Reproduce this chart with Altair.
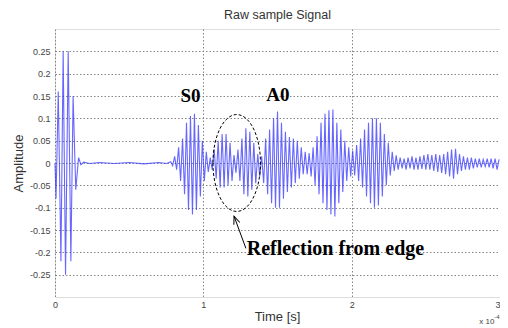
import altair as alt
import pandas as pd

# ---------------- data (time in units of 1e-4 s) ----------------
# excitation burst at the start (extrema)
burst1_t = [0.000, 0.007, 0.022, 0.040, 0.055, 0.071, 0.089, 0.107, 0.122, 0.140, 0.159, 0.175, 0.193]
burst1_v = [0.000, -0.080, 0.160, -0.220, 0.250, -0.250, 0.250, -0.220, 0.150, -0.060, 0.012, -0.004, 0.002]

# quiet part before the first arrival
quiet_t = [0.233, 0.300, 0.400, 0.500, 0.600, 0.700, 0.753]
quiet_v = [-0.001, 0.001, -0.001, 0.001, -0.002, 0.001, -0.001]

# received signal: successive positive and negative peaks, one per cycle
burst2_start = 0.78
cycle = 0.02667
pos_peaks = [0.003, 0.015, 0.035, 0.055, 0.090, 0.105, 0.110, 0.085, 0.050, 0.025,
             0.012, 0.030, 0.050, 0.065, 0.065, 0.045, 0.018, 0.030, 0.055, 0.078,
             0.070, 0.045, 0.020, 0.015, 0.055, 0.075, 0.100, 0.115, 0.090, 0.070,
             0.058, 0.055, 0.050, 0.035, 0.025, 0.022, 0.035, 0.060, 0.090, 0.110,
             0.118, 0.120, 0.090, 0.075, 0.050, 0.035, 0.028, 0.040, 0.055, 0.075,
             0.090, 0.100, 0.100, 0.090, 0.065, 0.045, 0.025, 0.017, 0.012, 0.010,
             0.012, 0.015, 0.012, 0.015, 0.018, 0.020, 0.018, 0.020, 0.018, 0.020,
             0.025, 0.030, 0.032, 0.020, 0.015, 0.012, 0.012, 0.010, 0.010, 0.008,
             0.010, 0.010, 0.010, 0.008]
neg_peaks = [-0.006, -0.015, -0.040, -0.070, -0.105, -0.115, -0.105, -0.075, -0.040, -0.020,
             -0.015, -0.035, -0.055, -0.055, -0.050, -0.040, -0.022, -0.040, -0.070, -0.075,
             -0.060, -0.045, -0.030, -0.045, -0.070, -0.090, -0.100, -0.100, -0.080, -0.065,
             -0.055, -0.045, -0.035, -0.025, -0.025, -0.030, -0.050, -0.070, -0.090, -0.105,
             -0.115, -0.120, -0.090, -0.065, -0.040, -0.030, -0.028, -0.040, -0.055, -0.075,
             -0.090, -0.100, -0.095, -0.075, -0.050, -0.028, -0.018, -0.015, -0.012, -0.015,
             -0.012, -0.015, -0.015, -0.013, -0.015, -0.015, -0.018, -0.020, -0.022, -0.025,
             -0.030, -0.035, -0.025, -0.018, -0.015, -0.015, -0.012, -0.010, -0.010, -0.008,
             -0.010, -0.012, -0.015]

x_ticks = [0, 1, 2, 3]
y_ticks = [-0.25, -0.2, -0.15, -0.1, -0.05, 0, 0.05, 0.1, 0.15, 0.2, 0.25]

# annotation anchors (data coordinates)
mode_labels = ["S0", "A0"]
mode_t = [0.913, 1.503]
mode_v = [0.149, 0.153]
refl_label = "Reflection from edge"
refl_t, refl_v = 1.293, -0.193
ellipse_t, ellipse_v = 1.225, 0.0
arrow_tail = (1.287, -0.191)
arrow_tip = (1.207, -0.119)
exp_t, exp_v = 2.86, -0.355

# ---------------- build table ----------------
rows = list(zip(burst1_t, burst1_v)) + list(zip(quiet_t, quiet_v))
for j, v in enumerate(pos_peaks):
    rows.append((burst2_start + j * cycle, v))
for j, v in enumerate(neg_peaks):
    rows.append((burst2_start + (j + 0.5) * cycle, v))
sig = pd.DataFrame(rows, columns=["t", "v"]).sort_values("t").reset_index(drop=True)
sig["i"] = range(len(sig))

xs = alt.Scale(domain=[0, 3], nice=False, zero=False)
ys = alt.Scale(domain=[-0.3, 0.3], nice=False, zero=False)

grid_dash = [1.5, 2]
x_axis = alt.Axis(values=x_ticks, tickCount=10, title="Time [s]", grid=True, gridDash=grid_dash,
                  gridColor="#7a7a7a", gridOpacity=0.9, ticks=False, domain=False, labelFontSize=9,
                  labelColor="#444", labelFont="Liberation Sans", labelPadding=3, labelOverlap=False,
                  labelAlign={"condition": {"test": "datum.value == 3", "value": "right"}, "value": "center"},
                  labelExpr="toString(datum.value)", titleFont="Liberation Sans",
                  titleFontSize=13, titleFontWeight="normal", titleColor="#333",
                  titleX=222, titleY=19, titleBaseline="middle", titleAlign="center")
y_axis = alt.Axis(values=y_ticks, tickCount=20, title="Amplitude", grid=True, gridDash=grid_dash,
                  gridColor="#7a7a7a", gridOpacity=0.9, ticks=False, domain=False, labelFontSize=9,
                  labelColor="#444", labelFont="Liberation Sans", labelPadding=5, labelOverlap=False,
                  labelExpr="toString(round(datum.value*100)/100)",
                  titleFont="Liberation Sans", titleFontSize=13, titleFontWeight="normal",
                  titleColor="#333", titleX=-37, titleY=134, titleAngle=270,
                  titleBaseline="middle", titleAlign="center")

line = alt.Chart(sig).mark_line(color="#3434ff", strokeWidth=1.1, opacity=0.75).encode(
    x=alt.X("t:Q", scale=xs, axis=x_axis),
    y=alt.Y("v:Q", scale=ys, axis=y_axis),
    order="i:Q",
)

modes = alt.Chart(pd.DataFrame({"t": mode_t, "v": mode_v, "label": mode_labels})).mark_text(
    font="Liberation Serif", fontWeight="bold", fontSize=19, color="black", align="center", baseline="middle"
).encode(x=alt.X("t:Q", scale=xs), y=alt.Y("v:Q", scale=ys), text="label:N")

refl = alt.Chart(pd.DataFrame({"t": [refl_t], "v": [refl_v], "label": [refl_label]})).mark_text(
    font="Liberation Serif", fontWeight="bold", fontSize=20, color="black", align="left", baseline="middle"
).encode(x=alt.X("t:Q", scale=xs), y=alt.Y("v:Q", scale=ys), text="label:N")

ellipse_path = "M -0.49 0 A 0.49 1 0 1 0 0.49 0 A 0.49 1 0 1 0 -0.49 0 Z"
ellipse = alt.Chart(pd.DataFrame({"t": [ellipse_t], "v": [ellipse_v]})).mark_point(
    shape=ellipse_path, size=9400, filled=False, stroke="black", strokeWidth=1, strokeDash=[3, 2], opacity=1
).encode(x=alt.X("t:Q", scale=xs), y=alt.Y("v:Q", scale=ys))

arrow_df = pd.DataFrame({"t": [arrow_tail[0]], "v": [arrow_tail[1]], "t2": [arrow_tip[0]], "v2": [arrow_tip[1]]})
arrow = alt.Chart(arrow_df).mark_rule(color="black", strokeWidth=1).encode(
    x=alt.X("t:Q", scale=xs), y=alt.Y("v:Q", scale=ys), x2="t2:Q", y2="v2:Q"
)
head = alt.Chart(pd.DataFrame({"t": [arrow_tip[0]], "v": [arrow_tip[1]]})).mark_point(
    shape="M -0.4 1 L 0 0 L 0.4 1", size=256, filled=False, stroke="black", strokeWidth=1,
    angle=339.4, opacity=1
).encode(x=alt.X("t:Q", scale=xs), y=alt.Y("v:Q", scale=ys))

exp_df = pd.DataFrame({"t": [exp_t], "v": [exp_v]})
exp_base = alt.Chart(exp_df).mark_text(text="x 10", font="Liberation Sans", fontSize=8, color="#444",
                                        align="left", baseline="middle").encode(
    x=alt.X("t:Q", scale=xs), y=alt.Y("v:Q", scale=ys))
exp_sup = alt.Chart(exp_df).mark_text(text="-4", font="Liberation Sans", fontSize=6, color="#444",
                                       align="left", baseline="middle", dx=15, dy=-5).encode(
    x=alt.X("t:Q", scale=xs), y=alt.Y("v:Q", scale=ys))

chart = alt.layer(line, ellipse, arrow, head, modes, refl, exp_base, exp_sup).properties(
    width=445, height=268,
    title=alt.TitleParams("Raw sample Signal", font="Liberation Sans", fontSize=12.5, fontWeight="normal",
                          color="#333", anchor="middle", offset=8),
    autosize=alt.AutoSizeParams(type="none"),
    padding={"left": 47, "top": 21, "right": 0, "bottom": 31},
).configure_view(stroke="#8a8a8a", strokeWidth=1).configure(background="white")

chart.save("out.html", embed_options={"renderer": "svg", "actions": False})
